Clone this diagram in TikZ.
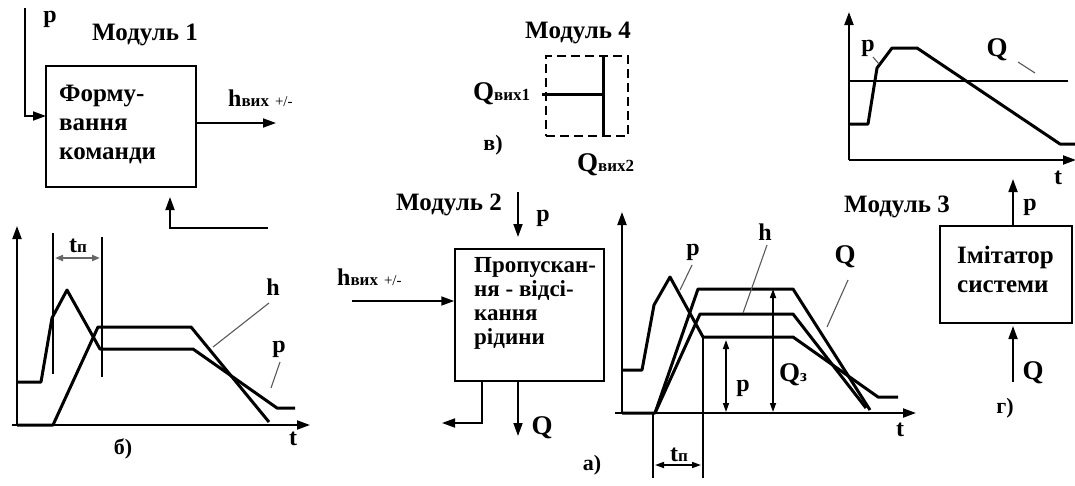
\documentclass[tikz,border=0pt]{standalone}
\usepackage{fontspec}
\setmainfont{Liberation Serif}
\usetikzlibrary{arrows.meta}
\begin{document}
\begin{tikzpicture}[x=1pt,y=-1pt,
 box/.style={draw, line width=1.5pt, inner sep=0pt},
 arr/.style={line width=1.8pt, -{Triangle[length=13pt,width=9pt]}},
 ln/.style={line width=1.8pt},
 crv/.style={line width=3pt, line join=round},
 ax/.style={line width=2pt, -{Triangle[length=13pt,width=9pt]}},
 lead/.style={line width=1.1pt, black!65},
 dbl/.style={line width=1.6pt, {Triangle[length=9pt,width=6pt]}-{Triangle[length=9pt,width=6pt]}},
 gdbl/.style={line width=2pt, black!60, {Triangle[length=8pt,width=6pt]}-{Triangle[length=8pt,width=6pt]}},
 big/.style={font=\bfseries\fontsize{24}{24}\selectfont, inner sep=0pt},
 bigq/.style={font=\bfseries\fontsize{27}{27}\selectfont, inner sep=0pt},
 mod/.style={font=\bfseries\fontsize{25}{25}\selectfont, inner sep=0pt},
 sml/.style={font=\bfseries\fontsize{22}{22}\selectfont, inner sep=0pt},
 btxt/.style={align=left, inner sep=0pt, anchor=north west},
]
\useasboundingbox (0,0) rectangle (1075,485);
\newcommand{\subt}[1]{{\fontsize{17}{17}\selectfont #1}}
\newcommand{\plmn}{{\mdseries\fontsize{15}{15}\selectfont +/-}}

% ---------------- Module 1 ----------------
\node[mod] (t1) at (145,35) {Модуль 1};
\node[box, minimum width=150, minimum height=121] (m1) at (121,126.5) {};
\node[btxt, font=\bfseries\fontsize{25}{29}\selectfont] (m1t) at (59,85) {Форму-\\вання\\команди};
\node[big] (p1l) at (50,19) {p};
\coordinate (p1top) at (25,8);
\coordinate (p1in) at (46,116);
\draw[arr] (p1top) |- (p1in);
\coordinate (h1out) at (276,123);
\draw[arr] (m1.east |- h1out) -- (h1out);
\node[big, anchor=base west] (h1l) at (228,106) {h\subt{вих} \plmn};
\coordinate (fbstart) at (268,228);
\coordinate (fbend) at (170,197);
\draw[arr] (fbstart) -| (fbend);

% ---------------- Graph b ----------------
\draw[ax] (17,425) -- (17,226);
\draw[ax] (12,425) -- (310,425);
\node[big] (tb) at (293,439) {t};
\node[sml] (lb) at (123,449) {б)};
\draw[crv] (17,382) -- (41,382) -- (52,318) -- (67,290) -- (100,349) -- (193,349) -- (277,408) -- (295,408);
\draw[crv] (17,425) -- (53,425) -- (98,327) -- (191,327) -- (269,422);
\draw[ln] (53,233) -- (53,374);
\draw[ln] (102,237) -- (102,377);
\draw[gdbl] (55,258) -- (100,258);
\node[big, anchor=base] (tpb) at (78,252) {t\subt{п}};
\node[big] (hb) at (273,287) {h};
\draw[lead] (269,303) -- (213,347);
\node[big] (pb) at (279,349) {p};
\draw[lead] (280,362) -- (271,388);

% ---------------- Module 4 ----------------
\node[mod] (t4) at (578,33) {Модуль 4};
\node[draw, line width=1.3pt, dash pattern=on 9pt off 5pt, minimum width=82, minimum height=80, inner sep=0pt] (m4) at (587,96) {};
\draw[line width=3pt] ([xshift=16pt]m4.north) -- ([xshift=16pt]m4.south);
\draw[line width=3pt] ([xshift=-3pt,yshift=2pt]m4.west) -- ([xshift=16pt,yshift=2pt]m4.center);
\node[bigq, anchor=base west] (q1) at (473,100) {Q\subt{вих1}};
\node[bigq, anchor=base west] (q2) at (577,171) {Q\subt{вих2}};
\node[sml] (lv) at (493,145) {в)};

% ---------------- Graph top right ----------------
\draw[ax] (849,160) -- (849,12);
\draw[ax] (849,160) -- (1076,160);
\node[big] (tr) at (1058,178) {t};
\draw[line width=1.2pt] (849,81) -- (1068,81);
\draw[crv] (849,124) -- (868,124) -- (877,68) -- (892,48) -- (917,48) -- (1060,144) -- (1075,144);
\node[big] (prl) at (868,48) {p};
\draw[lead] (873,57) -- (879,64);
\node[bigq] (qrl) at (997,50) {Q};
\draw[lead] (1018,62) -- (1035,73);

% ---------------- Module 2 ----------------
\node[mod] (t2) at (449,205) {Модуль 2};
\node[box, minimum width=149, minimum height=132] (m2) at (529.5,315) {};
\node[btxt, font=\bfseries\fontsize{23}{24}\selectfont] (m2t) at (474,257) {Пропускан-\\ня - відсі-\\кання\\рідини};
\coordinate (p2top) at (518,192);
\draw[arr] (p2top) -- (518,237);
\node[big] (p2l) at (543,218) {p};
\coordinate (h2in) at (352,301);
\draw[arr] (h2in) -- (m2.west |- h2in);
\node[big, anchor=base west] (h2l) at (337,285) {h\subt{вих} \plmn};
\coordinate (dr) at (442,423);
\draw[arr] (m2.south -| 482,0) |- (dr);
\coordinate (q2out) at (518,436);
\draw[arr] (m2.south -| q2out) -- (q2out);
\node[bigq] (q2l) at (542,428) {Q};
\node[sml] (la) at (592,465) {а)};

% ---------------- Graph a (Module 3) ----------------
\node[mod] (t3) at (897,207) {Модуль 3};
\draw[ax] (622,413) -- (622,212);
\draw[ax] (615,413) -- (916,413);
\node[big] (ta) at (900,430) {t};
\draw[crv] (622,370) -- (642,370) -- (654,305) -- (670,277) -- (703,337) -- (793,337) -- (878,397) -- (898,397);
\draw[crv] (622,413) -- (655,413) -- (698,289) -- (793,289) -- (870,410);
\draw[crv] (655,413) -- (700,314) -- (793,314) -- (866,408);
\draw[ln] (653,413) -- (653,478);
\draw[ln] (703,337) -- (703,478);
\draw[dbl] (655,465) -- (701,465);
\node[big, anchor=base] (tpa) at (679,461) {t\subt{п}};
\draw[dbl] (726,340) -- (726,412);
\node[big] (pa) at (743,388) {p};
\draw[dbl] (773,289) -- (773,412);
\node[bigq, anchor=base west] (qz) at (779,381) {Q\subt{з}};
\node[big] (pal) at (693,252) {p};
\draw[lead] (692,265) -- (680,290);
\node[big] (hal) at (765,232) {h};
\draw[lead] (767,245) -- (743,313);
\node[bigq] (qal) at (845,257) {Q};
\draw[lead] (848,280) -- (827,327);

% ---------------- Module imitator ----------------
\node[box, minimum width=132, minimum height=97] (m5) at (1006,274.5) {};
\node[btxt, font=\bfseries\fontsize{25}{29}\selectfont] (m5t) at (957,246) {Імітатор\\системи};
\coordinate (p5out) at (1013,179);
\draw[arr] (m5.north -| p5out) -- (p5out);
\node[big] (p5l) at (1030,207) {p};
\coordinate (q5in) at (1013,382);
\draw[arr] (q5in) -- (1013,326);
\node[bigq] (q5l) at (1033,373) {Q};
\node[sml] (lg) at (1005,408) {г)};
\end{tikzpicture}
\end{document}
